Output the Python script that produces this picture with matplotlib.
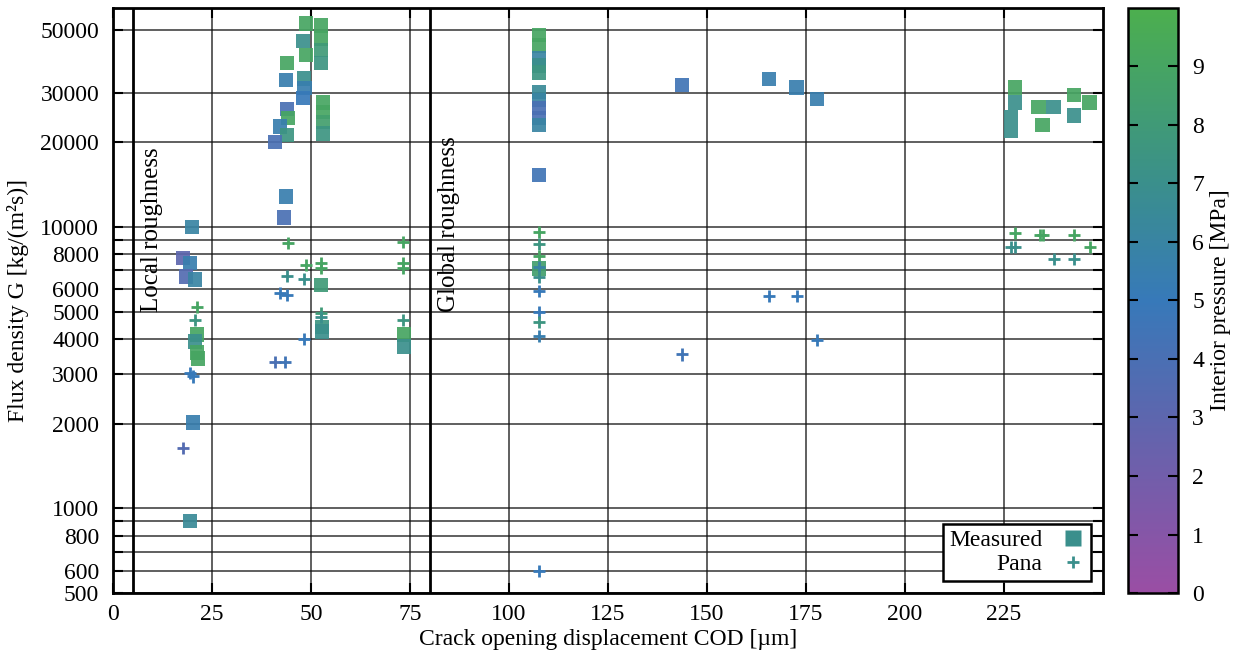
import matplotlib
matplotlib.use("Agg")
import matplotlib.pyplot as plt
import numpy as np
from matplotlib.colors import LinearSegmentedColormap
from matplotlib.lines import Line2D

plt.rcParams['font.family'] = ['Liberation Serif', 'DejaVu Serif']
plt.rcParams['font.size'] = 17

# Measured: COD [um], flux density G, interior pressure [MPa]
meas_x = [19.9, 17.7, 19.4, 18.4, 20.7, 21.2, 20.7, 21.2, 21.5, 20.2, 19.4,
          48.7, 52.5, 52.5, 48.0, 48.7, 52.5, 52.5, 43.9, 43.7, 48.2, 48.4, 48.0,
          53.0, 53.0, 53.0, 53.0, 43.9, 44.2, 42.2, 44.0, 40.9, 43.7, 43.2,
          52.5, 52.8, 52.8, 73.5, 73.5,
          107.6, 107.6, 107.6, 107.6, 107.6, 107.6, 107.6, 107.6, 107.6, 107.6, 107.6, 107.6,
          143.7, 165.7, 172.7, 177.8,
          227.8, 227.8, 226.8, 226.8, 233.8, 237.6, 234.8, 242.7, 242.7, 246.7]
meas_g = [10000, 7760, 7450, 6650, 6490, 4140, 3910, 3570, 3400, 2020, 900,
          52900, 52000, 46800, 45700, 40800, 42500, 38200, 38200, 33200, 33700, 31100, 28700,
          27700, 25600, 23600, 21500, 26200, 24400, 22700, 21200, 20000, 12800, 10800,
          6220, 4400, 4250, 4140, 3750,
          48000, 44200, 39700, 37500, 35400, 30100, 28200, 26400, 24400, 23000, 15300, 7100,
          31900, 33500, 31300, 28500,
          31300, 27700, 24600, 21900, 26700, 26700, 23000, 29400, 24900, 27700]
meas_p = [6, 3, 5.5, 3.5, 6, 9, 7, 9, 9, 5.5, 6.5,
          9, 9, 9, 7, 9, 8, 7.5, 9, 5.5, 7, 5.5, 5,
          9, 9, 8.5, 7.5, 4, 9, 5.5, 7.5, 4, 5.5, 4,
          8, 7.5, 7, 9, 7,
          9, 9, 6, 7, 7.5, 6.5, 6, 4, 4, 6, 4.5, 8.5,
          4.5, 5.5, 5.5, 5.5,
          9, 7, 7, 7, 9, 7, 9, 9, 7, 9]

# Pana model
pana_x = [17.7, 19.4, 20.2, 21.2, 20.7,
          44.2, 73.2, 48.7, 52.5, 52.5, 73.2, 73.2, 43.9, 48.2, 42.2, 43.9,
          52.5, 52.5, 73.2, 48.2, 40.9, 43.4,
          107.6, 107.6, 107.6, 107.6, 107.6, 107.6, 107.6, 107.6, 107.6, 107.6,
          143.7, 165.7, 172.7, 177.8,
          227.8, 234.1, 234.8, 242.7, 246.7, 226.8, 227.8, 237.6, 242.7]
pana_g = [1640, 3030, 2940, 5200, 4680,
          8770, 8850, 7330, 7450, 7150, 7450, 7150, 6700, 6550, 5840, 5740,
          4960, 4800, 4680, 4010, 3320, 3320,
          9600, 8700, 7900, 7210, 6650, 5930, 5000, 4610, 4100, 598,
          3520, 5690, 5690, 3970,
          9520, 9370, 9370, 9370, 8500, 8500, 8500, 7710, 7710]
pana_p = [3.5, 5, 5, 9, 7.5,
          9, 9, 9, 9, 9, 9, 9, 7, 7, 5, 5,
          8, 7, 7.5, 5, 4, 4.5,
          9, 7.5, 9, 6, 7, 5, 5, 7.5, 5.5, 5,
          4.5, 5, 5, 5,
          9, 9, 9, 9, 9, 7, 7, 7, 7]

y_ticks = [500, 600, 700, 800, 900, 1000, 2000, 3000, 4000, 5000, 6000, 7000,
           8000, 9000, 10000, 20000, 30000, 50000]
y_labels = ['500', '600', '', '800', '', '1000', '2000', '3000', '4000', '5000',
            '6000', '', '8000', '', '10000', '20000', '30000', '50000']
x_ticks = [0, 25, 50, 75, 100, 125, 150, 175, 200, 225]
region_x = [5, 80]
region_names = ['Local roughness', 'Global roughness']

cmap = LinearSegmentedColormap.from_list(
    'press', [(0.0, '#9a4ea4'), (0.3, '#5d66ae'), (0.5, '#3779b9'),
              (0.7, '#3a8f8c'), (1.0, '#4caf4e')])

fig = plt.figure(figsize=(12.34, 6.56), dpi=100)
ax = fig.add_axes([0.0916, 0.096, 0.802, 0.892])
cax = fig.add_axes([0.914, 0.096, 0.041, 0.892])

sc = ax.scatter(meas_x, meas_g, c=meas_p, cmap=cmap, vmin=0, vmax=10,
                marker='s', s=110, alpha=0.92, linewidths=0, zorder=4)
ax.scatter(pana_x, pana_g, c=pana_p, cmap=cmap, vmin=0, vmax=10,
           marker='+', s=75, linewidths=2, zorder=4)

ax.set_yscale('log')
ax.set_xlim(0, 250)
ax.set_ylim(500, 60000)
ax.yaxis.set_minor_locator(matplotlib.ticker.NullLocator())
ax.set_yticks(y_ticks)
ax.set_yticklabels(y_labels)
ax.set_xticks(x_ticks)
ax.tick_params(direction='in', length=7, width=1.5, top=True, right=True)
ax.tick_params(axis='y', pad=10)
ax.tick_params(axis='x', pad=8)
ax.grid(True, color='#111111', lw=1.1, alpha=0.85, zorder=1)
for s in ax.spines.values():
    s.set_linewidth(2)

for xv, name in zip(region_x, region_names):
    ax.axvline(xv, color='k', lw=2, zorder=2)
    ax.text(xv + 2, 5000, name, rotation=90, ha='left', va='bottom', fontsize=18)

ax.set_xlabel('Crack opening displacement COD [µm]', labelpad=3)
ax.set_ylabel('Flux density G [kg/(m²s)]', labelpad=8)

leg_col = cmap(0.7)
handles = [Line2D([], [], ls='', marker='s', ms=11, color=leg_col, mec='none'),
           Line2D([], [], ls='', marker='+', ms=9, mew=2, color=leg_col)]
leg = ax.legend(handles, ['Measured', 'Pana'], loc='lower right', markerfirst=False,
                fancybox=False, framealpha=1, edgecolor='k', handlelength=1,
                borderaxespad=0.5, borderpad=0.25, labelspacing=0.1)
leg.get_frame().set_linewidth(1.8)
leg.set_zorder(5)

cb = fig.colorbar(sc, cax=cax, ticks=range(10))
cb.solids.set_alpha(1)
cb.outline.set_linewidth(1.8)
cax.tick_params(direction='in', length=7, width=1.5, left=True, right=True, pad=10)
cb.set_label('Interior pressure [MPa]', labelpad=4)

fig.savefig('out.png', dpi=100)
